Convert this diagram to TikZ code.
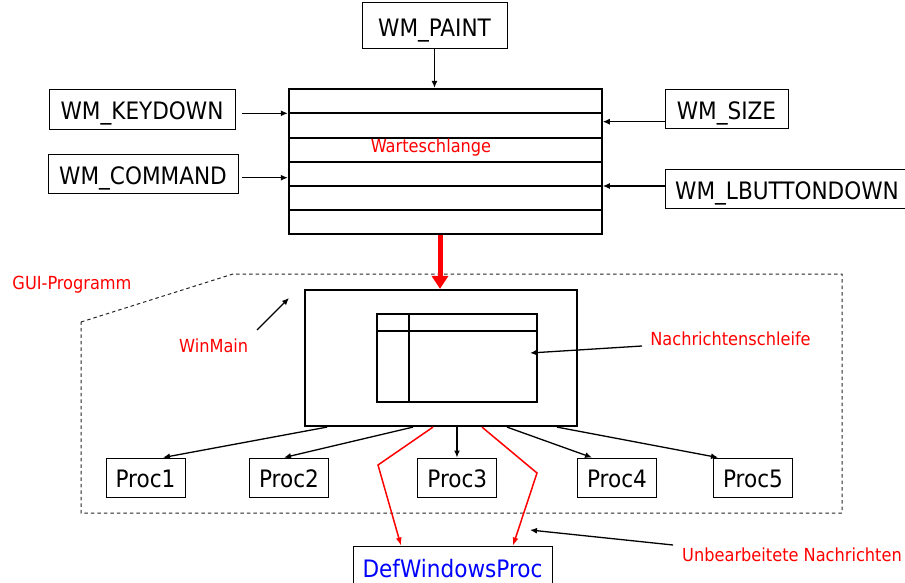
\documentclass[tikz,border=0pt]{standalone}
\usepackage{fontspec}
\setmainfont{DejaVu Sans Condensed}
\usetikzlibrary{arrows.meta,calc}
\begin{document}
\begin{tikzpicture}[x=1pt,y=-1pt,
  big/.style={font=\fontsize{24}{27}\selectfont},
  lbl/.style={font=\fontsize{18}{21}\selectfont, text=red, inner sep=0pt, anchor=base},
  msgbox/.style={draw, line width=1pt, big, inner sep=0pt, text height=21pt, text depth=0pt},
  procbox/.style={draw, line width=0.9pt, big, inner sep=0pt, text height=19.5pt, text depth=0pt, minimum width=79, minimum height=39},
  arr/.style={line width=1.3pt, -{Latex[length=7pt,width=6pt]}},
  redarr/.style={red, line width=1.5pt, -{Latex[length=8pt,width=6pt]}},
  bigarr/.style={red, line width=5pt, -{Triangle[length=13pt,width=16pt]}},
  qline/.style={line width=2.2pt},
]
\useasboundingbox (0,0) rectangle (905,583);

% message boxes
\node[msgbox, minimum width=145, minimum height=46] (paint) at (434.5,26) {WM\_PAINT};
\node[msgbox, minimum width=186, minimum height=40] (kd) at (142,109.3) {WM\_KEYDOWN};
\node[msgbox, minimum width=190, minimum height=39] (cmd) at (143,173.7) {WM\_COMMAND};
\node[msgbox, minimum width=123, minimum height=39] (sz) at (726.5,109.5) {WM\_SIZE};
\node[msgbox, minimum width=244, minimum height=38] (lb) at (787,189) {WM\_LBUTTONDOWN};

% queue
\node[draw, qline, minimum width=312.7, minimum height=144.7, inner sep=0pt] (q) at (445.3,161.3) {};
\foreach \yy in {113.3,137.7,161.7,186,210}
  \draw[qline] (q.west |- 0,\yy) -- (q.east |- 0,\yy);
\node[lbl] (wq) at (431,152.5) {Warteschlange};

% arrows into queue
\draw[arr] (paint.south) -- (paint.south |- q.north);
\coordinate (kdstart) at (242,113.3);
\draw[arr] (kdstart) -- (kdstart -| q.west);
\coordinate (cmdstart) at (242,177.7);
\draw[arr] (cmdstart) -- (cmdstart -| q.west);
\draw[arr] (sz.west |- 0,121.7) -- (q.east |- 0,121.7);
\draw[arr] (lb.west |- 0,186) -- (q.east |- 0,186);

% GUI program region
\draw[dash pattern=on 3.5pt off 3pt, line width=1pt, black!85] (81,322) -- (233,274) -- (842,274) -- (842,513) -- (81,513) -- cycle;
\node[lbl] (gui) at (72,289) {GUI-Programm};

% WinMain
\node[draw, line width=2.2pt, minimum width=272, minimum height=136, inner sep=0pt] (wm) at (441,358) {};
\node[draw, line width=1.5pt, minimum width=160, minimum height=88, inner sep=0pt] (inner) at (457,358) {};
\draw[line width=1.5pt] (inner.north -| 409,0) -- (inner.south -| 409,0);
\draw[line width=1.5pt] (inner.west |- 0,331) -- (inner.east |- 0,331);

\draw[bigarr] (q.south -| 440,0) -- (wm.north -| 440,0);

\node[lbl] (wml) at (213.7,352.7) {WinMain};
\coordinate (wmls) at (257,330);
\coordinate (wmle) at (289,298);
\draw[arr] (wmls) -- (wmle);

\node[lbl] (ns) at (730.5,345.7) {Nachrichtenschleife};
\coordinate (nss) at (642,346);
\coordinate (nse) at (530,353);
\draw[arr] (nss) -- (nse);

% procs
\node[procbox] (p1) at (145.5,477.5) {Proc1};
\node[procbox] (p2) at (289,477.5) {Proc2};
\node[procbox] (p3) at (457.3,477.5) {Proc3};
\node[procbox] (p4) at (617,477.5) {Proc4};
\node[procbox] (p5) at (753,477.5) {Proc5};

\draw[arr] (wm.south -| 327,0) -- (p1.north -| 163,0);
\draw[arr] (wm.south -| 413,0) -- (p2.north -| 284,0);
\draw[arr] (wm.south -| 457,0) -- (p3.north -| 457,0);
\draw[arr] (wm.south -| 507,0) -- (p4.north -| 592,0);
\draw[arr] (wm.south -| 557,0) -- (p5.north -| 718,0);

% DefWindowsProc
\node[procbox, minimum width=199, minimum height=44, text=blue] (dw) at (452.5,568) {DefWindowsProc};
\draw[redarr] (wm.south -| 433,0) -- (378,465) -- (dw.north -| 401,0);
\draw[redarr] (wm.south -| 482,0) -- (537,473) -- (dw.north -| 513,0);

\node[lbl] (un) at (792,561) {Unbearbeitete Nachrichten};
\coordinate (uns) at (673,545);
\coordinate (une) at (530,530);
\draw[arr] (uns) -- (une);
\end{tikzpicture}
\end{document}
